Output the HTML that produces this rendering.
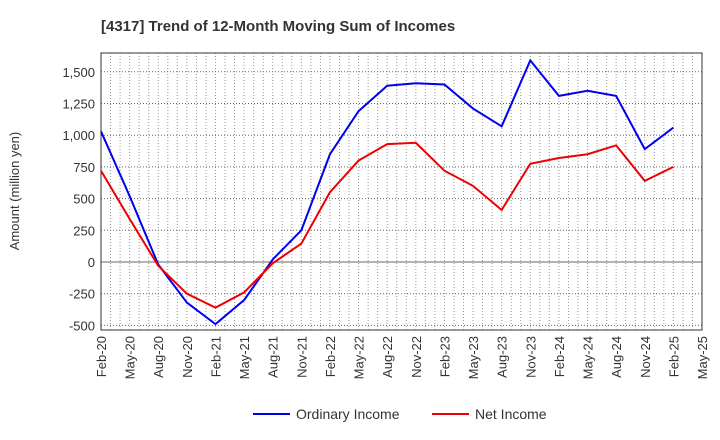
<!DOCTYPE html>
<html><head><meta charset="utf-8"><style>body{margin:0;background:#fff}svg{display:block;font-family:"Liberation Sans",sans-serif}</style></head>
<body>
<svg id="c" width="720" height="440">
<text x="101" y="31" font-size="15" font-weight="bold" fill="#333">[4317]  Trend of 12-Month Moving Sum of Incomes</text>
<g id="grid"></g><g id="axes"></g><g id="series"></g>
<text transform="translate(19,191) rotate(-90)" text-anchor="middle" font-size="13" fill="#333">Amount (million yen)</text>
<g>
<line x1="253" y1="414" x2="290" y2="414" stroke="#0000ee" stroke-width="2"/>
<text x="296" y="419" font-size="14" fill="#333">Ordinary Income</text>
<line x1="432" y1="414" x2="469" y2="414" stroke="#ee0000" stroke-width="2"/>
<text x="475" y="419" font-size="14" fill="#333">Net Income</text>
</g>
</svg>
<script>
const xLabels=["Feb-20","May-20","Aug-20","Nov-20","Feb-21","May-21","Aug-21","Nov-21","Feb-22","May-22","Aug-22","Nov-22","Feb-23","May-23","Aug-23","Nov-23","Feb-24","May-24","Aug-24","Nov-24","Feb-25","May-25"];
const yTicks=[-500,-250,0,250,500,750,1000,1250,1500];
const ordinaryIncome=[1030,520,-20,-320,-490,-300,20,250,850,1190,1390,1410,1400,1210,1070,1590,1310,1350,1310,890,1060];
const netIncome=[720,340,-30,-250,-360,-240,-10,145,550,800,930,940,720,600,410,775,820,850,920,640,750];
const L=101,R=702,T=53,B=330;
const ns="http://www.w3.org/2000/svg";
const X=i=>L+i*(R-L)/21;
const Y=v=>262-v*31.7/250;
function mk(t,a,p){const e=document.createElementNS(ns,t);for(const k in a)e.setAttribute(k,a[k]);p.appendChild(e);return e;}
const g=document.getElementById('grid'),ax=document.getElementById('axes'),s=document.getElementById('series');
for(let m=1;m<63;m++){const x=L+m*(R-L)/63;const l=mk('line',{x1:x,x2:x,y1:T,y2:B,stroke:'#999','stroke-width':1,'stroke-dasharray':'1,2'},g);
}
yTicks.forEach(v=>{const y=Y(v);const l=mk('line',{x1:L,x2:R,y1:y,y2:y,stroke:'#666','stroke-width':1,'stroke-dasharray':'1,2'},g);

const t=mk('text',{x:L-6,y:y+5,'text-anchor':'end','font-size':13,fill:'#333'},ax);t.textContent=v.toLocaleString('en-US');
});
const zl=mk('line',{x1:L,x2:R,y1:Y(0),y2:Y(0),stroke:'#666','stroke-width':1},ax);

const fr=mk('rect',{x:L,y:T,width:R-L,height:B-T,fill:'none',stroke:'#333','stroke-width':1},ax);

xLabels.forEach((lb,i)=>{const x=X(i);const t=mk('text',{transform:`translate(${x+5},${B+6}) rotate(-90)`,'text-anchor':'end','font-size':13,fill:'#333'},ax);t.textContent=lb;
});
function line(d,c,n){const p=mk('polyline',{points:d.map((v,i)=>X(i)+','+Y(v)).join(' '),fill:'none',stroke:c,'stroke-width':2},s);
}
line(ordinaryIncome,'#0000ee','ordinary-income-line');
line(netIncome,'#ee0000','net-income-line');
</script>
</body></html>
